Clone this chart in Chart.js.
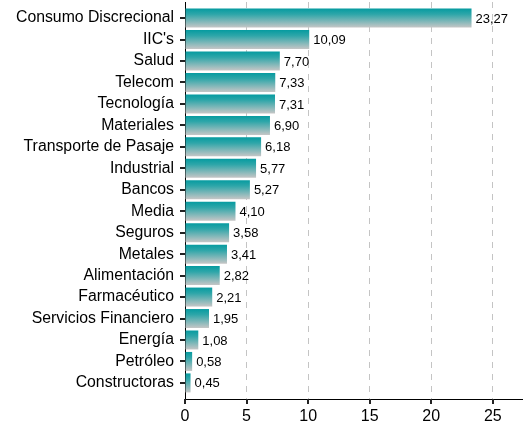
<!DOCTYPE html>
<html>
<head>
<meta charset="utf-8">
<script src="https://cdn.jsdelivr.net/npm/chart.js@4/dist/chart.umd.min.js"></script>
<style>
  body { margin: 0; background: #fff; }
  canvas { display: block; }
</style>
</head>
<body>
<canvas id="myChart" width="523" height="426"></canvas>
<script>
// Datos del gráfico
var categorias = ["Consumo Discrecional", "IIC's", "Salud", "Telecom", "Tecnología", "Materiales",
  "Transporte de Pasaje", "Industrial", "Bancos", "Media", "Seguros", "Metales", "Alimentación",
  "Farmacéutico", "Servicios Financiero", "Energía", "Petróleo", "Constructoras"];
var valores = [23.27, 10.09, 7.70, 7.33, 7.31, 6.90, 6.18, 5.77, 5.27, 4.10, 3.58, 3.41, 2.82,
  2.21, 1.95, 1.08, 0.58, 0.45];
var ticksX = [0, 5, 10, 15, 20, 25];

var fuente = '"Liberation Sans", Arial, sans-serif';
var anchoBarra = 0.885;
var largoTick = 5;

// Degradado por barra: verde azulado arriba, gris abajo
function colorBarra(context) {
  var chart = context.chart;
  var y = chart.scales.y;
  if (!y || context.dataIndex === undefined) {
    return '#0a9ea2';
  }
  var centro = y.getPixelForValue(context.dataIndex);
  var paso = Math.abs(y.getPixelForValue(1) - y.getPixelForValue(0));
  var medio = paso * anchoBarra / 2;
  if (!isFinite(centro) || !isFinite(medio) || medio <= 0) {
    return '#0a9ea2';
  }
  var g = chart.ctx.createLinearGradient(0, centro - medio, 0, centro + medio);
  g.addColorStop(0, '#069ba0');
  g.addColorStop(0.3, '#2ea6a9');
  g.addColorStop(1, '#c6c6c6');
  return g;
}

// Etiquetas de valor y marcas de los ejes
var etiquetasValor = {
  id: 'etiquetasValor',
  afterDatasetsDraw: function (chart) {
    var ctx = chart.ctx;
    var meta = chart.getDatasetMeta(0);
    var sx = chart.scales.x;
    var sy = chart.scales.y;
    var izq = Math.round(sx.getPixelForValue(0));
    var abajo = Math.round(sy.bottom);
    ctx.save();
    ctx.font = '13px ' + fuente;
    ctx.fillStyle = '#000';
    ctx.textBaseline = 'middle';
    ctx.textAlign = 'left';
    meta.data.forEach(function (bar, i) {
      ctx.fillText(valores[i].toFixed(2).replace('.', ','), bar.x + 4, bar.y + 1);
    });
    // marcas del eje y (una por categoria) y del eje x
    ctx.fillStyle = '#222';
    meta.data.forEach(function (bar) {
      ctx.fillRect(izq - largoTick, Math.round(bar.y) - 1, largoTick, 2);
    });
    ticksX.forEach(function (v) {
      ctx.fillRect(Math.round(sx.getPixelForValue(v)) - 1, abajo, 2, largoTick);
    });
    ctx.restore();
  }
};

var puntos = valores.map(function (v, i) { return { x: v, y: i }; });

var ctx = document.getElementById("myChart").getContext("2d");
var myChart = new Chart(ctx, {
  type: "bar",
  data: {
    datasets: [{
      data: puntos,
      backgroundColor: colorBarra,
      borderWidth: 0,
      categoryPercentage: 1,
      barPercentage: anchoBarra
    }]
  },
  plugins: [etiquetasValor],
  options: {
    indexAxis: 'y',
    responsive: false,
    animation: false,
    devicePixelRatio: 1,
    layout: { padding: { top: 2, right: 0, bottom: 0, left: 0 } },
    plugins: {
      legend: { display: false },
      tooltip: { enabled: false }
    },
    scales: {
      x: {
        type: 'linear',
        position: 'bottom',
        min: 0,
        max: 27.45,
        offset: false,
        afterBuildTicks: function (scale) {
          scale.ticks = ticksX.map(function (v) { return { value: v }; });
        },
        afterFit: function (scale) {
          scale.height = 27;
          scale.paddingLeft = 0;
          scale.paddingRight = 0;
        },
        grid: {
          offset: false,
          color: function (c) {
            return c.tick && c.tick.value === 0 ? 'rgba(0,0,0,0)' : '#c4c4c4';
          },
          lineWidth: 1,
          tickColor: '#000',
          tickLength: largoTick
        },
        border: { color: '#000', width: 1, dash: [6, 6] },
        ticks: {
          color: '#000',
          font: { family: fuente, size: 16 },
          padding: 3,
          maxRotation: 0
        }
      },
      y: {
        type: 'linear',
        reverse: true,
        min: -0.75,
        max: 17.75,
        offset: false,
        afterBuildTicks: function (scale) {
          scale.ticks = categorias.map(function (c, i) { return { value: i }; });
        },
        afterFit: function (scale) {
          scale.width = 185;
          scale.paddingTop = 0;
          scale.paddingBottom = 0;
        },
        grid: {
          offset: false,
          drawOnChartArea: false,
          tickColor: '#000',
          tickLength: largoTick
        },
        border: { color: '#000', width: 1 },
        ticks: {
          color: '#000',
          autoSkip: false,
          font: { family: fuente, size: 15.8 },
          padding: 6,
          callback: function (v) { return categorias[v]; }
        }
      }
    }
  }
});
</script>
</body>
</html>
